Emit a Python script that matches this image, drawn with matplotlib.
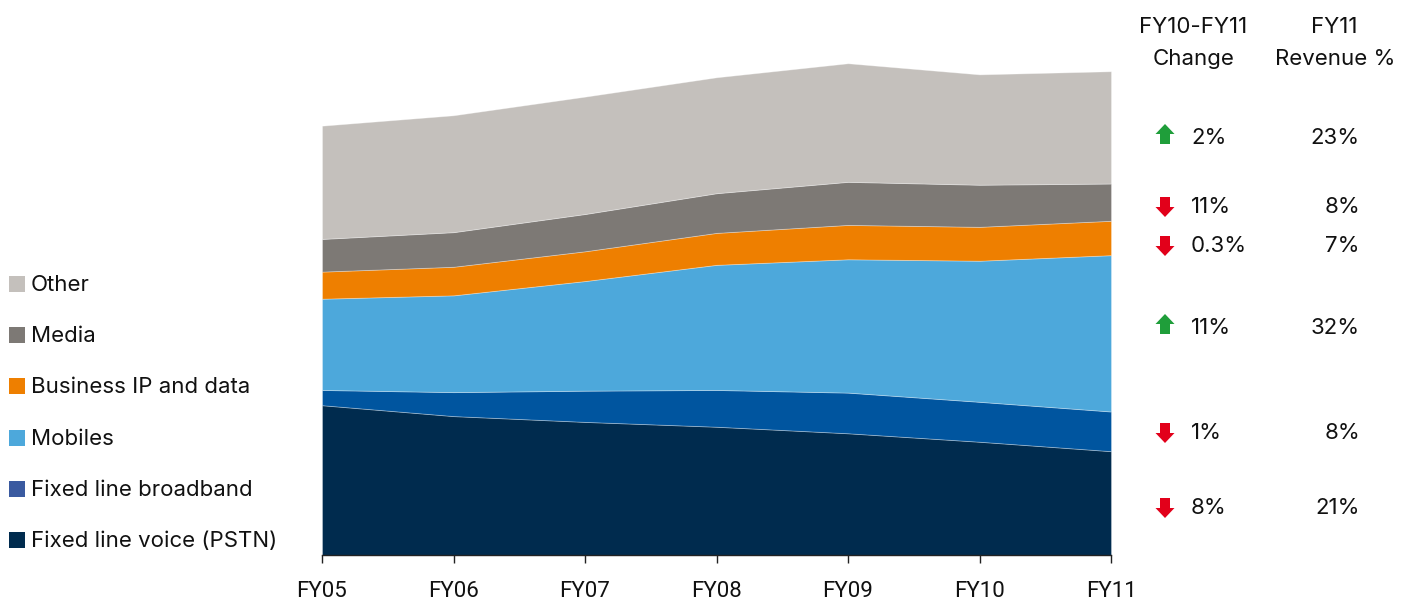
import matplotlib
matplotlib.use("Agg")
import matplotlib.pyplot as plt
from matplotlib.patches import Rectangle, Polygon
from matplotlib import font_manager

# ---------------- data ----------------
years = ["FY05", "FY06", "FY07", "FY08", "FY09", "FY10", "FY11"]
pstn = [6.19, 5.74, 5.50, 5.30, 5.03, 4.68, 4.29]
broadband = [0.63, 0.99, 1.29, 1.52, 1.68, 1.65, 1.64]
mobiles = [3.77, 4.00, 4.53, 5.17, 5.51, 5.83, 6.46]
business_ip = [1.12, 1.18, 1.23, 1.32, 1.42, 1.40, 1.42]
media = [1.35, 1.43, 1.54, 1.64, 1.78, 1.74, 1.54]
other = [4.68, 4.83, 4.85, 4.79, 4.90, 4.56, 4.64]

legend_labels = ["Other", "Media", "Business IP and data", "Mobiles",
                 "Fixed line broadband", "Fixed line voice (PSTN)"]
change_pct = [2, -11, -0.3, 11, -1, -8]        # FY10-FY11 change, top to bottom
revenue_share = [23, 8, 7, 32, 8, 21]          # FY11 revenue %, top to bottom

# ---------------- style ----------------
available = {f.name for f in font_manager.fontManager.ttflist}
main_font = "Inter" if "Inter" in available else "DejaVu Sans"
tick_font = "Roboto" if "Roboto" in available else "DejaVu Sans"
plt.rcParams["font.family"] = [main_font, "DejaVu Sans"]

col_pstn = "#002b4e"
col_bb = "#00559f"
col_bb_legend = "#3a5aa0"
col_mob = "#4da8db"
col_bus = "#ee7f00"
col_media = "#7d7975"
col_other = "#c4c0bc"

FS = 16.0
W, H = 1419, 603
fig = plt.figure(figsize=(W / 100, H / 100), dpi=100)

def fx(px):
    return px / W

def fy(py):
    return 1 - py / H

x0, x1, ybase = 322, 1111, 555
ax = fig.add_axes([fx(x0), fy(ybase), fx(x1 - x0), ybase / H])
xs = list(range(len(years)))
ax.stackplot(xs, pstn, broadband, mobiles, business_ip, media, other,
             colors=[col_pstn, col_bb, col_mob, col_bus, col_media, col_other],
             edgecolor=(1, 1, 1, 0.35), linewidth=0.6)
ax.set_xlim(0, len(years) - 1)
ax.set_ylim(0, ybase / 24.2)
for s in ["top", "right", "left"]:
    ax.spines[s].set_visible(False)
ax.spines["bottom"].set_linewidth(1.0)
ax.spines["bottom"].set_color("#222222")
ax.set_yticks([])
ax.set_xticks(xs)
ax.set_xticklabels(years, fontsize=16, family=[tick_font, "DejaVu Sans"], color="#111111")
ax.tick_params(axis="x", direction="out", length=5.5, width=1.0, color="#222222", pad=13.5)

# ---------------- legend (left) ----------------
leg_colors = [col_other, col_media, col_bus, col_mob, col_bb_legend, col_pstn]
leg_y = [284, 335, 386, 438, 489, 540]
for lab, c, yy in zip(legend_labels, leg_colors, leg_y):
    fig.patches.append(Rectangle((fx(9), fy(yy + 7.5)), fx(15.5), 15.5 / H,
                                 transform=fig.transFigure, facecolor=c, edgecolor="none"))
    fig.text(fx(31), fy(yy + 1), lab, fontsize=FS, color="#111111", va="center", ha="left")

# ---------------- right-hand table ----------------
fig.text(fx(1193), fy(27), "FY10-FY11", fontsize=FS, ha="center", va="center", color="#111111")
fig.text(fx(1194), fy(59), "Change", fontsize=FS, ha="center", va="center", color="#111111")
fig.text(fx(1334), fy(27), "FY11", fontsize=FS, ha="center", va="center", color="#111111")
fig.text(fx(1335), fy(59), "Revenue %", fontsize=FS, ha="center", va="center", color="#111111")

row_y = [137, 206, 245, 327, 432, 507]

def arrow(cx, cy, up, color):
    hw, head, shaft_w, h = 9.5, 10, 5, 20
    if up:
        top = cy - h / 2
        pts = [(cx, top), (cx + hw, top + head), (cx + shaft_w, top + head),
               (cx + shaft_w, top + h), (cx - shaft_w, top + h),
               (cx - shaft_w, top + head), (cx - hw, top + head)]
    else:
        bot = cy + h / 2
        pts = [(cx, bot), (cx + hw, bot - head), (cx + shaft_w, bot - head),
               (cx + shaft_w, bot - h), (cx - shaft_w, bot - h),
               (cx - shaft_w, bot - head), (cx - hw, bot - head)]
    fig.patches.append(Polygon([(fx(a), fy(b)) for a, b in pts], closed=True,
                               transform=fig.transFigure, facecolor=color, edgecolor="none"))

for ch, share, yy in zip(change_pct, revenue_share, row_y):
    up = ch > 0
    arrow(1165, yy - 3 if up else yy + 1, up, "#1f9e3a" if up else "#e2001a")
    fig.text(fx(1191), fy(yy + 1), f"{abs(ch):g}%", fontsize=FS, ha="left", va="center", color="#111111")
    fig.text(fx(1360), fy(yy + 1), f"{share}%", fontsize=FS, ha="right", va="center", color="#111111")

fig.savefig("out.png", dpi=100, facecolor="white")
